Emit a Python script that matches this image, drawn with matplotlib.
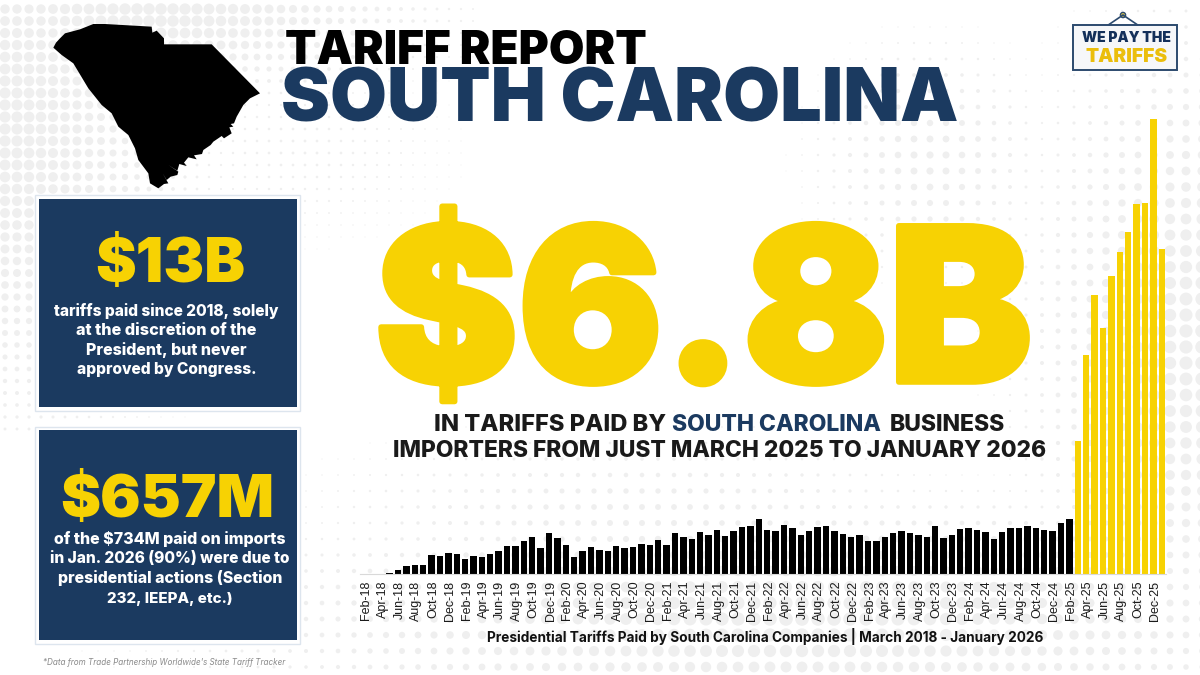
import numpy as np
import matplotlib
matplotlib.use("Agg")
import matplotlib.pyplot as plt
import matplotlib.patheffects as pe
from matplotlib.patches import Rectangle, Polygon, Circle
from matplotlib.transforms import ScaledTranslation

months = ["Jan","Feb","Mar","Apr","May","Jun","Jul","Aug","Sep","Oct","Nov","Dec"]
tick_every_labels = [f"{months[(1+i)%12]}-{18+(1+i)//12}" for i in range(96)]

tariffs_black = [1,1,1,2,9,16,19,18,39,36,44,40,31,36,35,40,48,57,57,67,75,53,84,74,60,34,48,55,50,48,57,54,56,62,60,
                 69,60,83,75,71,86,79,90,77,88,96,97,112,89,87,99,94,79,87,95,98,87,81,75,80,68,68,76,83,87,83,79,75,97,
                 73,79,92,94,90,86,71,85,94,93,98,94,90,87,103,112]
tariffs_yellow = [269,442,564,497,602,652,691,749,751,919,657]
values = tariffs_black + tariffs_yellow

NAVY = "#1B3A60"
YEL = "#F7D203"
W, H = 1200, 675
FONT = "Inter"

fig = plt.figure(figsize=(12, 6.75), dpi=100, facecolor="white")

bg = fig.add_axes([0, 0, 1, 1], zorder=0)
bg.set_xlim(0, W); bg.set_ylim(H, 0); bg.axis("off")

def blob(x, y, cx, cy, sx, sy, rmax):
    return rmax*np.exp(-0.5*(((x-cx)/sx)**2+((y-cy)/sy)**2))

gx, gy = np.meshgrid(np.arange(2, 1210, 16), np.arange(11, 690, 16))
gx = gx.ravel().astype(float); gy = gy.ravel().astype(float)
r = np.maximum.reduce([
    blob(gx, gy, 800, 620, 330, 70, 6.8),
    blob(gx, gy, 1215, 340, 110, 190, 6.8),
    blob(gx, gy, 930, 160, 75, 75, 3.6),
    blob(gx, gy, 640, 520, 210, 60, 3.0),
])
m = r > 0.55
bg.scatter(gx[m], gy[m], s=(2*r[m]*0.72)**2, c="#efefef", linewidths=0)

gx, gy = np.meshgrid(np.arange(5, 480, 12), np.arange(9, 440, 12))
gx = gx.ravel().astype(float); gy = gy.ravel().astype(float)
r = np.maximum.reduce([
    blob(gx, gy, 150, 15, 170, 50, 5.8),
    blob(gx, gy, 0, 120, 120, 190, 5.6),
    blob(gx, gy, 300, 150, 120, 70, 1.4),
])
m = r > 0.5
bg.scatter(gx[m], gy[m], s=(2*r[m]*0.72)**2, c="#efefef", linewidths=0)

# bar chart
x0, x1 = 360.2, 1165.9
base, top = 574.3, 100
ax = fig.add_axes([x0/W, 1-base/H, (x1-x0)/W, (base-top)/H], zorder=1)
ax.patch.set_alpha(0)
idx = np.arange(len(values))
colors = ["black"]*len(tariffs_black) + [YEL]*len(tariffs_yellow)
ax.bar(idx, values, width=0.76, color=colors)
ax.set_xlim(-0.5, 95.5); ax.set_ylim(0, (base-top)*2.02)
ax.set_yticks([])
ax.set_xticks(idx[::2])
ax.set_xticklabels(tick_every_labels[::2], rotation=90, fontsize=9.0,
                   family="Liberation Sans", color="#1a1a1a")
ax.tick_params(axis="x", length=0, pad=4.5)
shift = ScaledTranslation(1.6/100, 0, fig.dpi_scale_trans)
for lab in ax.get_xticklabels():
    lab.set_transform(lab.get_transform() + shift)
for s in ["top", "left", "right"]:
    ax.spines[s].set_visible(False)
ax.spines["bottom"].set_color("#d9d9d9"); ax.spines["bottom"].set_linewidth(0.8)

ov = fig.add_axes([0, 0, 1, 1], zorder=2)
ov.set_xlim(0, W); ov.set_ylim(H, 0); ov.axis("off"); ov.patch.set_alpha(0)
rend = fig.canvas.get_renderer()

def fit(s, xa, xb, yb, color, weight=800, family=FONT, style="normal"):
    t = ov.text(xa, yb, s, ha="left", va="baseline", color=color, fontsize=20,
                fontweight=weight, family=family, style=style)
    w = t.get_window_extent(rend).width
    t.set_fontsize(20*(xb-xa)/w)
    return t

# state outline (crop pixels, 3x, crop origin 40,10)
state_x = [40,48,60,75,120,160,195,335,337,350,372,372,515,660,630,610,590,582,572,580,568,575,552,545,520,512,490,486,462,470,445,432,
           440,418,412,385,415,412,392,380,368,385,372,355,330,325,295,285,265,235,215,185,145,100,65]
state_y = [113,98,85,70,58,42,42,50,68,62,85,103,103,250,265,285,320,340,342,350,352,370,385,378,395,405,420,432,436,448,442,458,
           468,462,482,465,485,495,500,510,490,520,522,535,520,490,450,415,375,350,310,285,235,160,135]
ov.add_patch(Polygon(np.c_[40+np.array(state_x)/3, 10+np.array(state_y)/3], closed=True, fc="black", ec="none"))

# headline
fit("TARIFF REPORT", 285, 646, 63.5, "black", 900)
fit("SOUTH CAROLINA", 281, 957, 122, NAVY, 900)
big = fit("$6.8B", 375, 1032, 382, YEL, 900)
big.set_path_effects([pe.withStroke(linewidth=4, foreground=YEL)])

# sub-heading
fit("IN TARIFFS PAID BY", 434, 666, 431, "#1a1a1a", 800)
fit("SOUTH CAROLINA", 672, 882, 431, NAVY, 800)
fit("BUSINESS", 890, 1006, 431, "#1a1a1a", 800)
fit("IMPORTERS FROM JUST MARCH 2025 TO JANUARY 2026", 393, 1047, 457, "#1a1a1a", 800)
fit("Presidential Tariffs Paid by South Carolina Companies | March 2018 - January 2026", 487, 1043, 642, "#111111", 700)

# panels
for ya, yb, ia, ib in [(195, 411, 199, 407), (427, 644, 430, 640)]:
    ov.add_patch(Rectangle((35, ya), 265, yb-ya, fc="white", ec="#dde5ee", lw=1))
    ov.add_patch(Rectangle((39, ia), 258, ib-ia, fc=NAVY, ec="none"))
fit("$13B", 95, 245, 282, YEL, 900)
fit("$657M", 60, 274, 517, YEL, 900)
for s, xa, xb, yb in [("tariffs paid since 2018, solely", 54, 279, 316),
                      ("at the discretion of the", 76, 257, 335),
                      ("President, but never", 86, 247, 355),
                      ("approved by Congress.", 77, 257, 374),
                      ("of the $734M paid on imports", 54, 286, 544),
                      ("in Jan. 2026 (90%) were due to", 50, 290, 563),
                      ("presidential actions (Section", 58, 283, 583),
                      ("232, IEEPA, etc.)", 107, 233, 603)]:
    fit(s, xa, xb, yb, "white", 800)
fit("*Data from Trade Partnership Worldwide's State Tariff Tracker", 43, 286, 665, "#8a8a8a", 400, style="italic")

# logo
ov.add_patch(Rectangle((1073, 24.5), 104, 45.5, fc="#f6f7f9", ec="#2c4a6e", lw=1.4))
ov.plot([1109, 1123, 1137], [24.5, 15, 24.5], color="#2c4a6e", lw=1.2)
ov.add_patch(Circle((1123, 15), 2.6, fc="#d9c24a", ec="#2c4a6e", lw=1))
fit("WE PAY THE", 1082, 1171, 42, "#14305a", 900)
fit("TARIFFS", 1085, 1167, 62, "#EBBE0C", 900)

fig.savefig("out.png", dpi=100)
